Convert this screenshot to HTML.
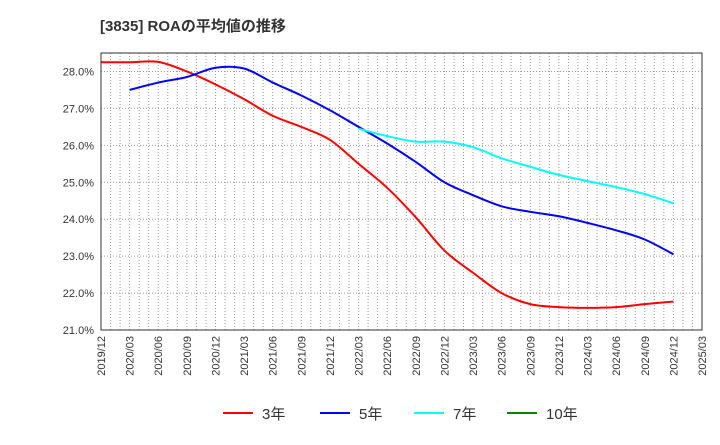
<!DOCTYPE html>
<html><head><meta charset="utf-8"><style>
body{margin:0;background:#fff;}
svg text{font-family:"Liberation Sans","Noto Sans CJK JP",sans-serif;}
</style></head><body>
<svg id="c" width="720" height="440" xmlns="http://www.w3.org/2000/svg">
<text x="100" y="31" font-size="15" font-weight="bold" fill="#333">[3835]  ROAの平均値の推移</text>
<g id="grid"></g><g id="axes"></g><g id="lines"></g>
<rect x="101" y="53" width="601" height="277" fill="none" stroke="#333" stroke-width="1"/>
<g>
<g><line x1="223" y1="413" x2="253" y2="413" stroke="#f00" stroke-width="2"/><text x="262" y="419" font-size="15" fill="#333">3年</text></g>
<g><line x1="320" y1="413" x2="350" y2="413" stroke="#00f" stroke-width="2"/><text x="359" y="419" font-size="15" fill="#333">5年</text></g>
<g><line x1="414" y1="413" x2="444" y2="413" stroke="#0ff" stroke-width="2"/><text x="453" y="419" font-size="15" fill="#333">7年</text></g>
<g><line x1="507" y1="413" x2="537" y2="413" stroke="#080" stroke-width="2"/><text x="546" y="419" font-size="15" fill="#333">10年</text></g>
</g>
</svg>
<script>
const xTicks=["2019/12","2020/03","2020/06","2020/09","2020/12","2021/03","2021/06","2021/09","2021/12","2022/03","2022/06","2022/09","2022/12","2023/03","2023/06","2023/09","2023/12","2024/03","2024/06","2024/09","2024/12","2025/03"];
const yTicks=[21,22,23,24,25,26,27,28];
const s3=[28.25,28.25,28.26,28.0,27.65,27.25,26.8,26.5,26.15,25.5,24.85,24.05,23.15,22.55,22.0,21.7,21.62,21.6,21.62,21.7,21.77];
const s5=[null,27.5,27.7,27.85,28.1,28.08,27.7,27.35,26.95,26.5,26.05,25.55,25.0,24.65,24.35,24.2,24.08,23.9,23.7,23.45,23.05];
const s7=[null,null,null,null,null,null,null,null,null,26.45,26.25,26.1,26.1,25.95,25.65,25.42,25.2,25.03,24.87,24.68,24.43];
const X0=101,X1=702,Y0=330,Y1=53,YMIN=21,YMAX=28.5;
const xs=i=>X0+(X1-X0)*i/(xTicks.length-1);
const ys=v=>Y0-(v-YMIN)/(YMAX-YMIN)*(Y0-Y1);
const NS="http://www.w3.org/2000/svg";
const grid=document.getElementById('grid'),axes=document.getElementById('axes'),lines=document.getElementById('lines');
function mk(t,a,p){const e=document.createElementNS(NS,t);for(const k in a)e.setAttribute(k,a[k]);p.appendChild(e);return e;}
for(let m=1;m<(xTicks.length-1)*3;m++){const x=X0+(X1-X0)*m/((xTicks.length-1)*3);
const l=mk('line',{x1:x,x2:x,y1:Y1,y2:Y0,stroke:'#999','stroke-dasharray':'1,2'},grid);

}
yTicks.forEach(v=>{const y=ys(v);
const l=mk('line',{x1:X0,x2:X1,y1:y,y2:y,stroke:'#999','stroke-dasharray':'1,2'},grid);


const t=mk('text',{x:94,y:y+4,'text-anchor':'end','font-size':11,fill:'#333'},axes);t.textContent=v.toFixed(1)+'%';

});
xTicks.forEach((s,i)=>{const x=xs(i);
const t=mk('text',{x:0,y:0,'text-anchor':'end','font-size':11,fill:'#333',transform:`translate(${x+4},336) rotate(-90)`},axes);t.textContent=s;

});
function path(arr,col,name){const p=[];arr.forEach((v,i)=>{if(v!=null)p.push([xs(i),ys(v)]);});
let d=`M${p[0][0]},${p[0][1]}`;
for(let i=0;i<p.length-1;i++){const a=p[Math.max(i-1,0)],b=p[i],c=p[i+1],e=p[Math.min(i+2,p.length-1)];
d+=` C${b[0]+(c[0]-a[0])/6},${b[1]+(c[1]-a[1])/6} ${c[0]-(e[0]-b[0])/6},${c[1]-(e[1]-b[1])/6} ${c[0]},${c[1]}`;}
const el=mk('path',{d:d,fill:'none',stroke:col,'stroke-width':2},lines);

}
path(s3,'#f00','line-3y');path(s5,'#00f','line-5y');path(s7,'#0ff','line-7y');
</script>
</body></html>
